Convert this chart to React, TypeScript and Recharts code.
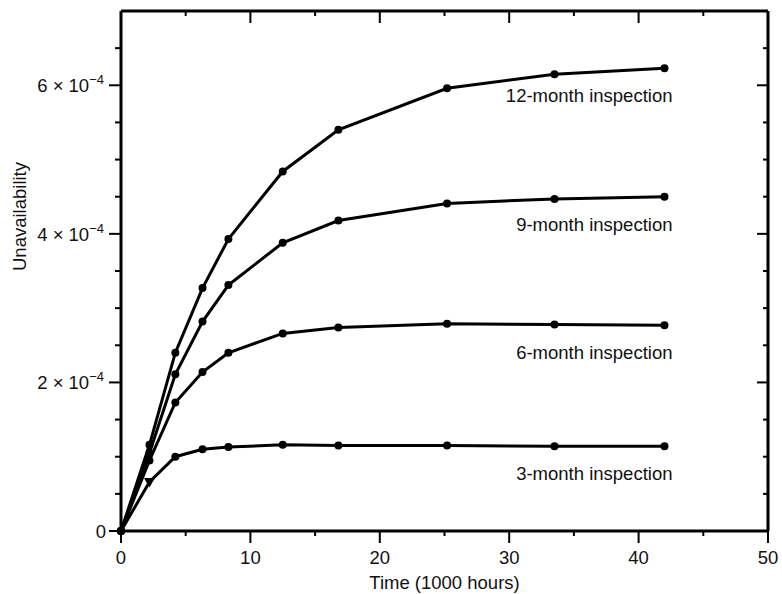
import React from 'react';
import { LineChart, Line, XAxis, YAxis, LabelList } from 'recharts';

// time in thousands of hours, unavailability in units of 1e-4
const timeK = [0, 2.2, 4.2, 6.3, 8.3, 12.5, 16.8, 25.2, 33.5, 42];
const month12 = [0, 1.16, 2.4, 3.27, 3.93, 4.84, 5.4, 5.96, 6.15, 6.23];
const month9 = [0, 1.05, 2.11, 2.82, 3.31, 3.88, 4.18, 4.41, 4.47, 4.5];
const month6 = [0, 0.95, 1.73, 2.14, 2.4, 2.66, 2.74, 2.79, 2.78, 2.77];
const month3 = [0, 0.66, 1.0, 1.1, 1.13, 1.16, 1.15, 1.15, 1.14, 1.14];

const seriesNames = ['12-month inspection', '9-month inspection', '6-month inspection', '3-month inspection'];
const xTicks = [0, 5, 10, 15, 20, 25, 30, 35, 40, 45, 50];
const yTicks = [0, 0.5, 1, 1.5, 2, 2.5, 3, 3.5, 4, 4.5, 5, 5.5, 6, 6.5];
const yLabelTicks = [2, 4, 6];

const FONT = '"Liberation Sans", Arial, sans-serif';
const last = timeK.length - 1;

const data = timeK.map((t, i) => ({
  t,
  m12: month12[i],
  m9: month9[i],
  m6: month6[i],
  m3: month3[i],
  l12: i === last ? seriesNames[0] : '',
  l9: i === last ? seriesNames[1] : '',
  l6: i === last ? seriesNames[2] : '',
  l3: i === last ? seriesNames[3] : '',
}));

const BottomTick = (props: any) => {
  const { x, y, payload } = props;
  const major = payload.value % 10 === 0;
  return (
    <g>
      <line x1={x} x2={x} y1={y} y2={y + (major ? 12 : 5)} stroke="#000" strokeWidth={2} />
      {major && (
        <text x={x} y={y + 33} textAnchor="middle" fontFamily={FONT} fontSize={18.5} fill="#111">
          {payload.value}
        </text>
      )}
    </g>
  );
};

const TopTick = (props: any) => {
  const { x, y, payload } = props;
  const major = payload.value % 10 === 0;
  return <line x1={x} x2={x} y1={y} y2={y + (major ? 12 : 5)} stroke="#000" strokeWidth={2} />;
};

const LeftTick = (props: any) => {
  const { x, y, payload } = props;
  const v = payload.value;
  const major = v % 2 === 0;
  return (
    <g>
      <line x1={x} x2={x - (major ? 12 : 6)} y1={y} y2={y} stroke="#000" strokeWidth={2} />
      {v === 0 && (
        <text x={x - 15} y={y + 7} textAnchor="end" fontFamily={FONT} fontSize={18.5} fill="#111">
          0
        </text>
      )}
      {yLabelTicks.includes(v) && (
        <text x={x - 17} y={y + 7} textAnchor="end" fontFamily={FONT} fontSize={18.5} fill="#111">
          <tspan>{v} × 10</tspan>
          <tspan dy={-8} fontSize={13}>−4</tspan>
        </text>
      )}
    </g>
  );
};

const RightTick = (props: any) => {
  const { x, y, payload } = props;
  const major = payload.value % 2 === 0;
  return <line x1={x} x2={x - (major ? 11 : 5)} y1={y} y2={y} stroke="#000" strokeWidth={2} />;
};

const SeriesLabel = (props: any) => {
  const { x, y, value } = props;
  if (!value) return null;
  return (
    <text x={x + 8} y={y + 34} textAnchor="end" fontFamily={FONT} fontSize={18.5} fill="#111">
      {value}
    </text>
  );
};

const makeDot = (triangleAt: number) => (props: any) => {
  const { cx, cy, index } = props;
  if (index === triangleAt) {
    return (
      <polygon
        key={`d-${index}`}
        points={`${cx - 5.5},${cy - 4} ${cx + 5.5},${cy - 4} ${cx},${cy + 5.5}`}
        fill="#000"
      />
    );
  }
  return <circle key={`d-${index}`} cx={cx} cy={cy} r={4} fill="#000" />;
};

const series = [
  { key: 'm12', label: 'l12', tri: -1 },
  { key: 'm9', label: 'l9', tri: -1 },
  { key: 'm6', label: 'l6', tri: -1 },
  { key: 'm3', label: 'l3', tri: 1 },
];

const App: React.FC = () => {
  return (
    <div style={{ position: 'absolute', left: 0, top: 0, width: 782, height: 594, background: '#fff' }}>
      <LineChart width={782} height={594} data={data} margin={{ top: 0, right: 0, bottom: 0, left: 0 }}>
        <XAxis
          xAxisId="bottom"
          dataKey="t"
          type="number"
          domain={[0, 50]}
          ticks={xTicks}
          interval={0}
          height={63}
          tickSize={0}
          tickMargin={0}
          tickLine={false}
          tick={<BottomTick />}
          axisLine={{ stroke: '#000', strokeWidth: 3 }}
          label={{ value: 'Time (1000 hours)', position: 'insideBottom', offset: 5, fontFamily: FONT, fontSize: 18.5, fill: '#111' }}
        />
        <XAxis
          xAxisId="top"
          orientation="top"
          dataKey="t"
          type="number"
          domain={[0, 50]}
          ticks={xTicks}
          interval={0}
          height={11}
          tickSize={0}
          tickMargin={0}
          tickLine={false}
          tick={<TopTick />}
          axisLine={{ stroke: '#000', strokeWidth: 3 }}
        />
        <YAxis
          yAxisId="left"
          type="number"
          domain={[0, 7]}
          ticks={yTicks}
          interval={0}
          width={121}
          tickSize={0}
          tickMargin={0}
          tickLine={false}
          tick={<LeftTick />}
          axisLine={{ stroke: '#000', strokeWidth: 3 }}
          label={{ value: 'Unavailability', angle: -90, position: 'insideLeft', offset: 19, fontFamily: FONT, fontSize: 18.5, fill: '#111' }}
        />
        <YAxis
          yAxisId="right"
          orientation="right"
          type="number"
          domain={[0, 7]}
          ticks={yTicks}
          interval={0}
          width={14}
          tickSize={0}
          tickMargin={0}
          tickLine={false}
          tick={<RightTick />}
          axisLine={{ stroke: '#000', strokeWidth: 3 }}
        />
        {series.map((s) => (
          <Line
            key={s.key}
            xAxisId="bottom"
            yAxisId="left"
            type="linear"
            dataKey={s.key}
            stroke="#000"
            strokeWidth={3}
            dot={makeDot(s.tri)}
            activeDot={false}
            isAnimationActive={false}
          >
            <LabelList dataKey={s.label} content={<SeriesLabel />} />
          </Line>
        ))}
        <Line
          xAxisId="top"
          yAxisId="right"
          dataKey="m12"
          stroke="none"
          dot={false}
          activeDot={false}
          legendType="none"
          isAnimationActive={false}
        />
      </LineChart>
    </div>
  );
};

export default App;
